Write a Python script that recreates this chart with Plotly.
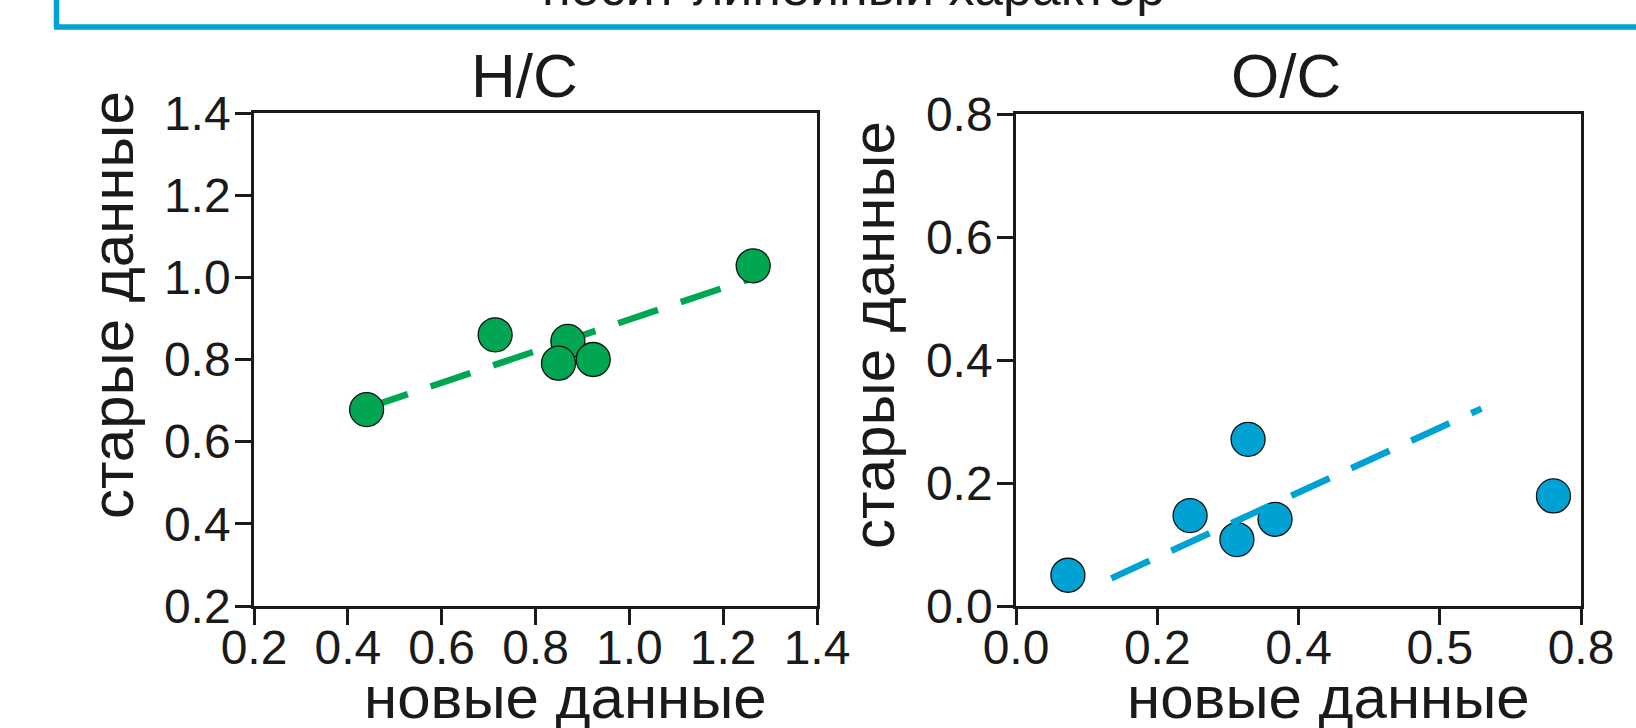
import plotly.graph_objects as go

W, H = 1636, 728

# ---- data ----
hc_new = [0.44, 0.714, 0.869, 0.849, 0.923, 1.264]
hc_old = [0.678, 0.86, 0.844, 0.791, 0.80, 1.028]
hc_fit_x = [0.443, 1.259]
hc_fit_y = [0.683, 0.997]

oc_new = [0.0735, 0.2465, 0.3286, 0.3128, 0.3668, 0.761]
oc_old = [0.05, 0.147, 0.271, 0.108, 0.141, 0.179]
oc_fit_x = [0.135, 0.659]
oc_fit_y = [0.045, 0.321]

hc_ticks = [0.2, 0.4, 0.6, 0.8, 1.0, 1.2, 1.4]
hc_ticktext = ["0.2", "0.4", "0.6", "0.8", "1.0", "1.2", "1.4"]
oc_yticks = [0.0, 0.2, 0.4, 0.6, 0.8]
oc_yticktext = ["0.0", "0.2", "0.4", "0.6", "0.8"]
oc_xticks = [0.0, 0.2, 0.4, 0.6, 0.8]
oc_xticktext = ["0.0", "0.2", "0.4", "0.5", "0.8"]

header_text = "носит линейный характер"
titles = ["H/C", "O/C"]
xlabel = "новые данные"
ylabel = "старые данные"

GREEN = "#00A651"
BLUE = "#00A2D3"
FONT = "Liberation Sans, Arial, sans-serif"
TXT = "#1a1a1a"


def px(x):
    return x / W


def py(y):
    return 1 - y / H


fig = go.Figure()

# H/C
fig.add_trace(go.Scatter(x=hc_fit_x, y=hc_fit_y, mode="lines",
                         line=dict(color=GREEN, width=6.5, dash="42px,24px"),
                         xaxis="x", yaxis="y", showlegend=False))
fig.add_trace(go.Scatter(x=hc_new, y=hc_old, mode="markers",
                         marker=dict(color=GREEN, size=34, line=dict(color="#111", width=1.3)),
                         xaxis="x", yaxis="y", showlegend=False, cliponaxis=False))
# O/C
fig.add_trace(go.Scatter(x=oc_new, y=oc_old, mode="markers",
                         marker=dict(color=BLUE, size=34, line=dict(color="#111", width=1.3)),
                         xaxis="x2", yaxis="y2", showlegend=False, cliponaxis=False))
fig.add_trace(go.Scatter(x=oc_fit_x, y=oc_fit_y, mode="lines",
                         line=dict(color=BLUE, width=6.5, dash="42px,24px"),
                         xaxis="x2", yaxis="y2", showlegend=False))

axis_common = dict(showline=True, linecolor="#1a1a1a", linewidth=2.5, mirror=True,
                   ticks="outside", ticklen=16, tickwidth=2.5, tickcolor="#1a1a1a",
                   showgrid=False, zeroline=False, automargin=False,
                   tickfont=dict(family=FONT, size=48, color=TXT))

fig.update_layout(
    width=W, height=H,
    margin=dict(l=0, r=0, t=0, b=0),
    paper_bgcolor="white", plot_bgcolor="white",
    xaxis=dict(domain=[px(254), px(817)], range=[0.2, 1.4], tickvals=hc_ticks,
               ticktext=hc_ticktext, anchor="y", ticklabelstandoff=-18, **axis_common),
    yaxis=dict(domain=[py(606), py(113)], range=[0.2, 1.4], tickvals=hc_ticks,
               ticktext=hc_ticktext, anchor="x", ticklabelstandoff=-5, **axis_common),
    xaxis2=dict(domain=[px(1016), px(1581)], range=[0.0, 0.8], tickvals=oc_xticks,
                ticktext=oc_xticktext, anchor="y2", ticklabelstandoff=-18, **axis_common),
    yaxis2=dict(domain=[py(606), py(114)], range=[0.0, 0.8], tickvals=oc_yticks,
                ticktext=oc_yticktext, anchor="x2", ticklabelstandoff=-5, **axis_common),
)

ann = []
# header text (mostly cut off at top)
ann.append(dict(text=header_text, xref="paper", yref="paper", x=px(853), y=py(-13),
                xanchor="center", yanchor="middle", showarrow=False,
                font=dict(family=FONT, size=52, color=TXT)))
# titles
for t, xc in zip(titles, [524, 1286]):
    ann.append(dict(text=t, xref="paper", yref="paper", x=px(xc), y=py(76),
                    xanchor="center", yanchor="middle", showarrow=False,
                    font=dict(family=FONT, size=62, color=TXT)))
# x titles
for xc in [565, 1328]:
    ann.append(dict(text=xlabel, xref="paper", yref="paper", x=px(xc), y=py(697),
                    xanchor="center", yanchor="middle", showarrow=False,
                    font=dict(family=FONT, size=60, color=TXT)))
# y titles
for xc, yc in [(112, 305), (874, 335)]:
    ann.append(dict(text=ylabel, xref="paper", yref="paper", x=px(xc), y=py(yc),
                    xanchor="center", yanchor="middle", showarrow=False, textangle=-90,
                    font=dict(family=FONT, size=60, color=TXT)))
fig.update_layout(annotations=ann)

# header frame lines
fig.update_layout(shapes=[
    dict(type="line", xref="paper", yref="paper", x0=px(54), x1=1.01, y0=py(27), y1=py(27),
         line=dict(color=BLUE, width=5.5)),
    dict(type="line", xref="paper", yref="paper", x0=px(56.5), x1=px(56.5), y0=1.01, y1=py(27),
         line=dict(color=BLUE, width=5.5)),
])

fig.write_html("out.html")
